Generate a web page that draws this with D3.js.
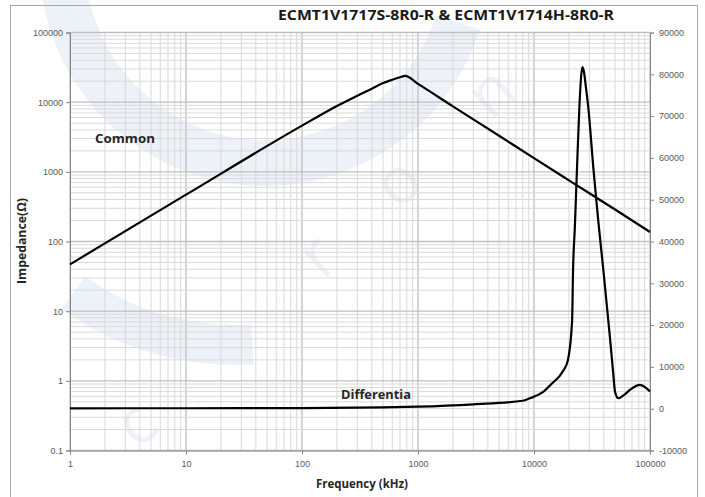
<!DOCTYPE html>
<html>
<head>
<meta charset="utf-8">
<script src="https://cdn.jsdelivr.net/npm/d3@7"></script>
<style>
  html, body { margin: 0; padding: 0; background: #fff; }
  svg { display: block; }
</style>
</head>
<body>
<svg id="chart" width="705" height="497"></svg>
<script>
// ---------------- DATA ----------------
const chartTitle = "ECMT1V1717S-8R0-R & ECMT1V1714H-8R0-R";
const xTickValues = [1, 10, 100, 1000, 10000, 100000];
const xTickLabels = ["1", "10", "100", "1000", "10000", "100000"];
const leftTickValues = [0.1, 1, 10, 100, 1000, 10000, 100000];
const leftTickLabels = ["0.1", "1", "10", "100", "1000", "10000", "100000"];
const rightTickValues = [-10000, 0, 10000, 20000, 30000, 40000, 50000, 60000, 70000, 80000, 90000];
const rightTickLabels = ["-10000", "0", "10000", "20000", "30000", "40000", "50000", "60000", "70000", "80000", "90000"];

// Common mode impedance (Ω), left log axis
const commonFreq = [1, 10, 100, 200, 300, 400, 500, 600, 700, 773, 1000, 2000, 5000, 10000, 20000, 50000, 100000];
const commonZ    = [47, 470, 4600, 8800, 12400, 15600, 18800, 21000, 22800, 23800, 18300, 8700, 3290, 1570, 755, 288, 137];

// Differential mode impedance, right linear axis
const diffFreq = [1, 10, 100, 500, 1000, 3000, 8000, 9200, 12000, 14000, 17800, 19600, 21300, 21700, 22500, 23400, 24600, 25400, 26100, 27000, 28000, 29400, 32500, 35800, 40000, 45000, 48000, 50000, 53300, 60000, 67000, 82000, 100000];
const diffZ    = [100, 110, 150, 300, 480, 1050, 1900, 2500, 4000, 5800, 9000, 11600, 21000, 33000, 43500, 56400, 72000, 79000, 81700, 80500, 77000, 72000, 57500, 45000, 32000, 17500, 9000, 4000, 2500, 3300, 4500, 5700, 4100];

const seriesLabels = ["Common", "Differentia"];
const watermarkLetters = ["c", "t", "r", "o", "n"];

// ---------------- LAYOUT ----------------
const svg = d3.select("#chart");
const L = 70, R = 650, T = 32.5, B = 450.5;

const x = d3.scaleLog().domain([1, 100000]).range([L, R]);
const yL = d3.scaleLog().domain([0.1, 100000]).range([B, T]);
const yR = d3.scaleLinear().domain([-10000, 90000]).range([B, T]);

// ---------------- WATERMARK ----------------
const wm = svg.append("g").attr("fill", "#edf1f8").attr("stroke", "none");
const arc = d3.arc();
wm.append("path")
  .attr("transform", "translate(265,-40)")
  .attr("d", arc({innerRadius: 180, outerRadius: 226, startAngle: Math.PI * 0.6, endAngle: Math.PI * 1.6}));
wm.append("path")
  .attr("transform", "translate(235,70)")
  .attr("d", arc({innerRadius: 255, outerRadius: 295, startAngle: Math.PI * 0.98, endAngle: Math.PI * 1.2}));
const letterPos = [[150, 440], [240, 355], [332, 272], [412, 198], [505, 108]];
watermarkLetters.forEach((ch, i) => {
  wm.append("text")
    .attr("x", letterPos[i][0]).attr("y", letterPos[i][1])
    .attr("transform", `rotate(-42,${letterPos[i][0]},${letterPos[i][1]})`)
    .attr("text-anchor", "middle")
    .attr("font-family", "Open Sans, sans-serif")
    .attr("font-size", 64)
    .text(ch);
});

// ---------------- FRAME ----------------
svg.append("rect")
  .attr("x", 10.5).attr("y", 5.5).attr("width", 687).attr("height", 500)
  .attr("fill", "none").attr("stroke", "#a6a6a6").attr("stroke-width", 1);

// ---------------- GRID ----------------
const grid = svg.append("g");
const isDecade = v => Math.abs(Math.log10(v) - Math.round(Math.log10(v))) < 1e-9;
x.ticks().forEach(v => {
  grid.append("line")
    .attr("x1", x(v)).attr("x2", x(v)).attr("y1", T).attr("y2", B)
    .attr("stroke", isDecade(v) ? "#bfbfbf" : "#d9d9d9")
    .attr("stroke-width", isDecade(v) ? 1.3 : 1);
});
yL.ticks().forEach(v => {
  grid.append("line")
    .attr("x1", L).attr("x2", R).attr("y1", yL(v)).attr("y2", yL(v))
    .attr("stroke", isDecade(v) ? "#bfbfbf" : "#d9d9d9")
    .attr("stroke-width", isDecade(v) ? 1.3 : 1);
});

// ---------------- AXES ----------------
const axisColor = "#868686";
const labelColor = "#595959";
const tickFont = "Liberation Sans, Arial, sans-serif";

function styleAxis(g) {
  g.select(".domain").attr("stroke", axisColor);
  g.selectAll(".tick line").attr("stroke", axisColor);
  g.selectAll(".tick text").attr("fill", labelColor)
    .attr("font-family", tickFont).attr("font-size", 9);
}

svg.append("g")
  .attr("transform", `translate(${L},0)`)
  .call(d3.axisLeft(yL).tickValues(leftTickValues)
    .tickFormat((d, i) => leftTickLabels[i]).tickSizeOuter(0).tickSize(4).tickPadding(3))
  .call(styleAxis);

svg.append("g")
  .attr("transform", `translate(${R},0)`)
  .call(d3.axisRight(yR).tickValues(rightTickValues)
    .tickFormat((d, i) => rightTickLabels[i]).tickSizeOuter(0).tickSize(4).tickPadding(5))
  .call(styleAxis);

svg.append("g")
  .attr("transform", `translate(0,${B})`)
  .call(d3.axisBottom(x).tickValues(xTickValues)
    .tickFormat((d, i) => xTickLabels[i]).tickSizeOuter(0).tickSize(4).tickPadding(6))
  .call(styleAxis);

// ---------------- LINES ----------------
const commonData = commonFreq.map((f, i) => [f, commonZ[i]]);
const diffData = diffFreq.map((f, i) => [f, diffZ[i]]);

svg.append("path")
  .datum(commonData)
  .attr("fill", "none").attr("stroke", "#000").attr("stroke-width", 2.2)
  .attr("stroke-linejoin", "round")
  .attr("d", d3.line().x(d => x(d[0])).y(d => yL(d[1])).curve(d3.curveMonotoneX));

svg.append("path")
  .datum(diffData)
  .attr("fill", "none").attr("stroke", "#000").attr("stroke-width", 2.2)
  .attr("stroke-linejoin", "round")
  .attr("d", d3.line().x(d => x(d[0])).y(d => yR(d[1])).curve(d3.curveMonotoneX));

// ---------------- TEXT ----------------
const boldFont = "Open Sans, Liberation Sans, sans-serif";
svg.append("text")
  .attr("x", 446).attr("y", 20)
  .attr("text-anchor", "middle")
  .attr("font-family", boldFont).attr("font-weight", "bold")
  .attr("font-size", 14.5).attr("fill", "#1a1a1a")
  .attr("textLength", 336).attr("lengthAdjust", "spacingAndGlyphs")
  .text(chartTitle);

svg.append("text")
  .attr("x", 125).attr("y", 143)
  .attr("text-anchor", "middle")
  .attr("font-family", boldFont).attr("font-weight", "bold")
  .attr("font-size", 12).attr("fill", "#262626")
  .attr("textLength", 60).attr("lengthAdjust", "spacingAndGlyphs")
  .text(seriesLabels[0]);

svg.append("text")
  .attr("x", 376).attr("y", 399)
  .attr("text-anchor", "middle")
  .attr("font-family", boldFont).attr("font-weight", "bold")
  .attr("font-size", 12).attr("fill", "#262626")
  .attr("textLength", 70).attr("lengthAdjust", "spacingAndGlyphs")
  .text(seriesLabels[1]);

svg.append("text")
  .attr("transform", "translate(26,241) rotate(-90)")
  .attr("text-anchor", "middle")
  .attr("font-family", boldFont).attr("font-weight", "bold")
  .attr("font-size", 12).attr("fill", "#262626")
  .attr("textLength", 86).attr("lengthAdjust", "spacingAndGlyphs")
  .text("Impedance(Ω)");

svg.append("text")
  .attr("x", 362).attr("y", 488)
  .attr("text-anchor", "middle")
  .attr("font-family", boldFont).attr("font-weight", "bold")
  .attr("font-size", 12).attr("fill", "#262626")
  .attr("textLength", 92).attr("lengthAdjust", "spacingAndGlyphs")
  .text("Frequency (kHz)");
</script>
</body>
</html>
